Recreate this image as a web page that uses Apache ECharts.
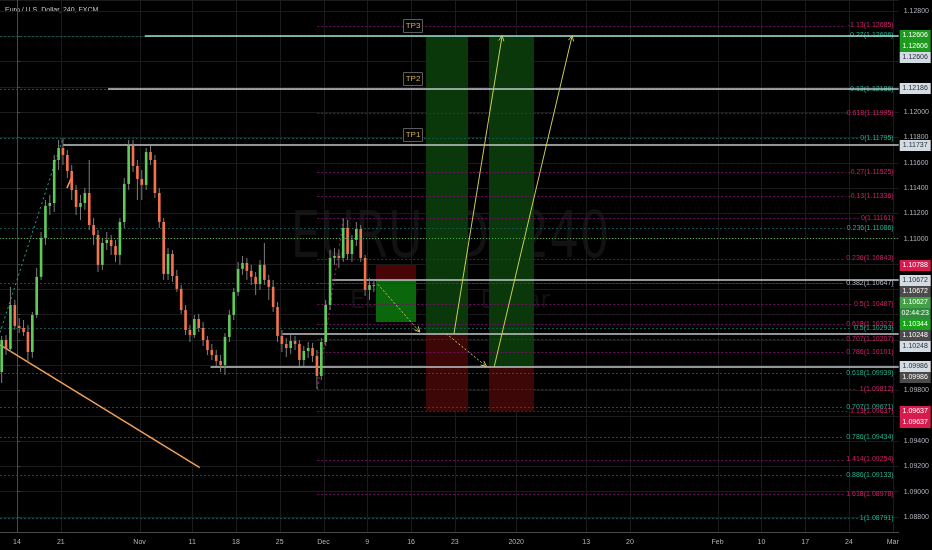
<!DOCTYPE html>
<html><head><meta charset="utf-8">
<script src="https://cdn.jsdelivr.net/npm/echarts@6/dist/echarts.min.js"></script>
<style>html,body{margin:0;padding:0;background:#000;}#c{width:932px;height:550px;}</style>
</head><body><div id="c"></div>
<script>
// ---------- data ----------
// x unit: trading days since Mon 14 Oct 2019 (weekends removed)
const axisLabelDays  = [0, 5, 14, 20, 25, 30, 35, 40, 45, 50, 57, 65, 70, 80, 85, 90, 95, 100];
const axisLabelTexts = ['14','21','Nov','11','18','25','Dec','9','16','23','2020','13','20','Feb','10','17','24','Mar'];

// 12-hour candles, first one centred at day -1.75
const candleStartDay = -1.75;
const candleStepDays = 0.5;
const openP  = [1.09946,1.10199,1.10128,1.10476,1.10310,1.10294,1.10262,1.10104,1.10397,1.10698,1.11006,1.11259,1.11282,1.11622,1.11717,1.11662,1.11535,1.11385,1.11251,1.11282,1.11361,1.11108,1.11029,1.10793,1.10966,1.10990,1.10942,1.10872,1.11132,1.11433,1.11741,1.11575,1.11472,1.11425,1.11685,1.11622,1.11361,1.11132,1.10721,1.10879,1.10705,1.10603,1.10436,1.10278,1.10238,1.10365,1.10294,1.10199,1.10120,1.10080,1.10033,1.10001,1.10223,1.10397,1.10579,1.10761,1.10808,1.10745,1.10698,1.10642,1.10793,1.10674,1.10619,1.10460,1.10231,1.10168,1.10136,1.10191,1.10168,1.10041,1.10112,1.10136,1.10073,1.09915,1.10183,1.10476,1.10848,1.10863,1.10848,1.11085,1.10879,1.10990,1.11077,1.10848,1.10595,1.10634];
const closeP = [1.10199,1.10128,1.10476,1.10310,1.10294,1.10262,1.10104,1.10397,1.10698,1.11006,1.11259,1.11282,1.11622,1.11717,1.11662,1.11535,1.11385,1.11251,1.11282,1.11361,1.11108,1.11029,1.10793,1.10966,1.10990,1.10942,1.10872,1.11132,1.11433,1.11741,1.11575,1.11472,1.11425,1.11685,1.11622,1.11361,1.11132,1.10721,1.10879,1.10705,1.10603,1.10436,1.10278,1.10238,1.10365,1.10294,1.10199,1.10120,1.10080,1.10033,1.10001,1.10223,1.10397,1.10579,1.10761,1.10808,1.10745,1.10698,1.10642,1.10793,1.10674,1.10619,1.10460,1.10231,1.10168,1.10136,1.10191,1.10168,1.10041,1.10112,1.10136,1.10073,1.09915,1.10183,1.10476,1.10848,1.10863,1.10848,1.11085,1.10879,1.10990,1.11077,1.10848,1.10595,1.10634,1.10627];
const highP  = [1.10231,1.10238,1.10619,1.10516,1.10373,1.10357,1.10318,1.10420,1.10769,1.11053,1.11306,1.11346,1.11662,1.11780,1.11795,1.11701,1.11583,1.11425,1.11346,1.11401,1.11622,1.11164,1.11069,1.11006,1.11053,1.11029,1.10990,1.11164,1.11480,1.11780,1.11780,1.11622,1.11543,1.11717,1.11733,1.11662,1.11401,1.11164,1.10927,1.10911,1.10753,1.10634,1.10476,1.10318,1.10397,1.10405,1.10341,1.10231,1.10168,1.10120,1.10080,1.10254,1.10436,1.10611,1.10816,1.10863,1.10848,1.10793,1.10737,1.10832,1.10966,1.10714,1.10674,1.10500,1.10278,1.10215,1.10238,1.10231,1.10199,1.10152,1.10183,1.10176,1.10120,1.10215,1.10516,1.10911,1.10927,1.10911,1.11161,1.11148,1.11029,1.11132,1.11108,1.10872,1.10690,1.10674];
const lowP   = [1.09859,1.10080,1.10104,1.10278,1.10254,1.10231,1.10025,1.10057,1.10373,1.10674,1.10951,1.11187,1.11211,1.11543,1.11583,1.11480,1.11306,1.11187,1.11148,1.11227,1.11069,1.10951,1.10737,1.10753,1.10911,1.10872,1.10816,1.10793,1.11085,1.11385,1.11527,1.11306,1.11306,1.11385,1.11583,1.11322,1.11085,1.10674,1.10674,1.10658,1.10579,1.10405,1.10238,1.10183,1.10215,1.10262,1.10152,1.10080,1.10041,1.09994,1.09946,1.09923,1.10183,1.10357,1.10547,1.10714,1.10674,1.10634,1.10555,1.10595,1.10634,1.10516,1.10420,1.10183,1.10104,1.10065,1.10089,1.10120,1.09994,1.09994,1.10057,1.10025,1.09812,1.09883,1.10152,1.10436,1.10793,1.10769,1.10816,1.10832,1.10816,1.10942,1.10816,1.10547,1.10516,1.10579];

// Fibonacci retracements
const magentaFibStartDay = 34.3;
const magentaFibLevels = [-1.13,-0.618,-0.27,-0.13,0,0.236,0.382,0.5,0.618,0.707,0.786,1,1.13,1.414,1.618];
const magentaFibPrices = [1.12685,1.11995,1.11525,1.11336,1.11161,1.10843,1.10647,1.10487,1.10327,1.10207,1.10101,1.09812,1.09637,1.09254,1.08978];
const tealFibStartDay = -1.94;
const tealFibLevels = [-0.27,-0.13,0,0.236,0.382,0.5,0.618,0.707,0.786,0.886,1];
const tealFibPrices = [1.12606,1.12186,1.11795,1.11086,1.10647,1.10293,1.09939,1.09671,1.09434,1.09133,1.08791];

// horizontal rays
const rayStartDays = [14.6, 10.4, 5.25, 36.0, 30.3, 22.1];
const rayPrices    = [1.12606, 1.12186, 1.11737, 1.10672, 1.10248, 1.09986];

// position tools
const positionStart  = [41.05, 46.75, 53.93];
const positionEnd    = [45.6, 51.54, 59.07];
const positionEntry  = [1.10672, 1.10248, 1.09986];
const positionStop   = [1.10788, 1.09637, 1.09637];
const positionTarget = [1.10344, 1.12606, 1.12606];

// projected path arrows
const arrowFromDay   = [41.2, 49.0, 49.9, 54.5];
const arrowFromPrice = [1.10640, 1.10250, 1.10250, 1.09990];
const arrowToDay     = [46.0, 53.6, 55.4, 63.4];
const arrowToPrice   = [1.10262, 1.09990, 1.12606, 1.12606];

// trend lines
const trendFromDay   = [-8.8, 34.3, -1.94, 5.7];
const trendFromPrice = [1.08791, 1.09812, 1.10160, 1.11400];
const trendToDay     = [5.25, 37.3, 20.87, 6.27];
const trendToPrice   = [1.11795, 1.11161, 1.09190, 1.11490];

// take-profit labels
const tpTexts  = ['TP1', 'TP2', 'TP3'];
const tpDays   = [45.2, 45.2, 45.2];
const tpPrices = [1.11737, 1.12186, 1.12606];

// price tags on the price scale
const tagPrices = [1.12606,1.12606,1.12606,1.12186,1.11737,1.10788,1.10672,1.10672,1.10627,1.10627,1.10344,1.10248,1.10248,1.09986,1.09986,1.09637,1.09637];
const tagTexts  = ['1.12606','1.12606','1.12606','1.12186','1.11737','1.10788','1.10672','1.10672','1.10627','02:44:23','1.10344','1.10248','1.10248','1.09986','1.09986','1.09637','1.09637'];
const tagKinds  = ['green','green','light','light','light','red','light','dark','last','count','green2','dark','light','light','dark','red','red'];

// ---------- layout / style ----------
const X_MIN = -1.94, X_MAX = 100.68, Y_MIN = 1.08681, Y_MAX = 1.12887;
const GRID = {left: 0, right: 32, top: 0, bottom: 18};
const PLOT_H = 550 - GRID.top - GRID.bottom;
const PX = (Y_MAX - Y_MIN) / PLOT_H;
const FONT = '"Liberation Sans", Arial, sans-serif';
const F7 = '7px ' + FONT;
const UP = '#5ecb5a', DOWN = '#f2734f', WICK = '#7d7d7d';
const TAG_STYLE = {
  green: {bg: '#1e9b1e', fg: '#ffffff'}, green2: {bg: '#18a418', fg: '#ffffff'},
  light: {bg: '#d3dce2', fg: '#2a2e39'}, dark: {bg: '#4b4b4b', fg: '#ffffff'},
  red: {bg: '#d81b4e', fg: '#ffffff'}, last: {bg: '#43a047', fg: '#ffffff'},
  count: {bg: '#2f8a3a', fg: '#ffffff'}
};
const measureCtx = document.createElement('canvas').getContext('2d');
measureCtx.font = F7;
const textW = t => measureCtx.measureText(t).width;

// stack tags like the price scale does
const TAG_STEP = 11 * PX;
const tagDisplay = [];
let prevTag = Infinity;
tagPrices.forEach(p => { const d = Math.min(p, prevTag - TAG_STEP); tagDisplay.push(d); prevTag = d; });

const sharedFib = magentaFibPrices.filter(p => tealFibPrices.includes(p));
const crisp = v => Math.round(v) + 0.5;

function fibSeries(levels, prices, startDay, lineColor, textColor, isTeal) {
  return {
    type: 'custom', z: 2, clip: false, silent: true,
    data: prices.map((p, i) => [startDay, p, levels[i]]),
    encode: {x: 0, y: 1},
    renderItem(params, api) {
      const cs = params.coordSys;
      const p = api.value(1);
      const a = api.coord([api.value(0), p]);
      const b = api.coord([X_MAX, p]);
      const y = crisp(a[1]);
      const shared = sharedFib.includes(p);
      const label = api.value(2) + '(' + p.toFixed(5) + ')';
      const endX = b[0] - 5 - textW(label) - 2;
      const children = [{type: 'line', shape: {x1: Math.max(a[0], cs.x), y1: y, x2: endX, y2: y},
        style: {stroke: lineColor, lineWidth: 1, lineDash: [2, 2]}}];
      if (!(isTeal && shared)) {
        children.push({type: 'text', x: b[0] - 5, y: a[1], style: {text: label,
          fill: shared ? '#b8bcc4' : textColor, font: F7, align: 'right', verticalAlign: 'middle'}});
      }
      return {type: 'group', children};
    }
  };
}

const option = {
  backgroundColor: '#000000',
  animation: false,
  grid: GRID,
  xAxis: {
    type: 'value', min: X_MIN, max: X_MAX,
    axisLine: {show: true, lineStyle: {color: '#4a4a4a'}},
    axisTick: {show: false}, splitLine: {show: false},
    axisLabel: {customValues: axisLabelDays, color: '#b2b5be', fontSize: 7, fontFamily: FONT, margin: 7,
      showMinLabel: true, showMaxLabel: true,
      formatter: v => { const i = axisLabelDays.indexOf(v); return i >= 0 ? axisLabelTexts[i] : ''; }}
  },
  yAxis: {
    type: 'value', position: 'right', min: Y_MIN, max: Y_MAX, splitNumber: 21, scale: true,
    axisLine: {show: true, lineStyle: {color: '#4a4a4a'}},
    axisTick: {show: true, length: 3, lineStyle: {color: '#4a4a4a'}},
    splitLine: {show: true, lineStyle: {color: '#1b1b1b'}},
    axisLabel: {color: '#b2b5be', fontSize: 7, fontFamily: FONT, margin: 5, showMinLabel: false, showMaxLabel: false,
      formatter: v => tagDisplay.some(t => Math.abs(t - v) < 6.5 * PX) ? '' : v.toFixed(5)}
  },
  graphic: [
    {type: 'text', x: 450, y: 240, scaleX: 0.74, z: -1, silent: true,
      style: {text: 'EURUSD, 240', font: '64px "DejaVu Sans", sans-serif', fill: '#121212', align: 'center', verticalAlign: 'middle'}},
    {type: 'text', x: 450, y: 301, scaleX: 0.94, z: -1, silent: true,
      style: {text: 'Euro / U.S. Dollar', font: '25px "DejaVu Sans", sans-serif', fill: '#121212', align: 'center', verticalAlign: 'middle'}},
    {type: 'text', x: 5, y: 10, silent: true,
      style: {text: 'Euro / U.S. Dollar, 240, FXCM', font: F7, fill: '#c9ccd2', verticalAlign: 'middle'}}
  ],
  series: [
    {type: 'custom', z: 0, silent: true, clip: true,
      data: axisLabelDays.map(d => [d, Y_MIN]), encode: {x: 0, y: 1},
      renderItem(params, api) {
        const cs = params.coordSys; const x = crisp(api.coord([api.value(0), Y_MIN])[0]);
        return {type: 'line', shape: {x1: x, y1: cs.y, x2: x, y2: cs.y + cs.height}, style: {stroke: '#1b1b1b', lineWidth: 1}};
      }},
    {type: 'custom', z: 1, silent: true, clip: true,
      data: positionStart.map((d, i) => [d, positionEntry[i], positionEnd[i], positionStop[i], positionTarget[i]]),
      encode: {x: [0, 2], y: [1, 3, 4]},
      renderItem(params, api) {
        const d0 = api.value(0), d1 = api.value(2), e = api.value(1), s = api.value(3), t = api.value(4);
        const isShort = s > e;
        const pe = api.coord([d0, e]), ps = api.coord([d1, s]), pt = api.coord([d1, t]);
        const x0 = Math.round(pe[0]), x1 = Math.round(ps[0]);
        const ye = Math.round(pe[1]), ys = Math.round(ps[1]), yt = Math.round(pt[1]);
        return {type: 'group', children: [
          {type: 'rect', shape: {x: x0, y: Math.min(ye, ys), width: x1 - x0, height: Math.abs(ys - ye)},
            style: {fill: isShort ? '#470505' : '#3d0707'}},
          {type: 'rect', shape: {x: x0, y: Math.min(ye, yt), width: x1 - x0, height: Math.abs(yt - ye)},
            style: {fill: isShort ? '#0b670b' : '#0a380a'}}
        ]};
      }},
    fibSeries(tealFibLevels, tealFibPrices, tealFibStartDay, '#0f5551', '#22b394', true),
    fibSeries(magentaFibLevels, magentaFibPrices, magentaFibStartDay, '#6d1160', '#d0206a', false),
    {type: 'custom', z: 3, silent: true, clip: true,
      data: rayStartDays.map((d, i) => [d, rayPrices[i]]), encode: {x: 0, y: 1},
      renderItem(params, api) {
        const a = api.coord([api.value(0), api.value(1)]); const b = api.coord([X_MAX, api.value(1)]);
        const tp3 = api.value(1) === tpPrices[2];
        return {type: 'line', shape: {x1: a[0], y1: Math.round(a[1]), x2: b[0], y2: Math.round(a[1])},
          style: {stroke: tp3 ? '#a6dcd3' : '#c3c8cd', lineWidth: 1.5}};
      }},
    {type: 'custom', z: 3, silent: true, clip: true,
      data: trendFromDay.map((d, i) => [d, trendFromPrice[i], trendToDay[i], trendToPrice[i], i]),
      encode: {x: [0, 2], y: [1, 3]},
      renderItem(params, api) {
        const a = api.coord([api.value(0), api.value(1)]), b = api.coord([api.value(2), api.value(3)]);
        const k = api.value(4);
        const st = [{stroke: '#26a69a', lineWidth: 1, lineDash: [2, 3]}, {stroke: '#b0208a', lineWidth: 1, lineDash: [2, 3]},
                    {stroke: '#f0a058', lineWidth: 1.5}, {stroke: '#f0a058', lineWidth: 1.5}][k];
        return {type: 'line', shape: {x1: a[0], y1: a[1], x2: b[0], y2: b[1]}, style: st};
      }},
    {type: 'custom', z: 4, silent: true, clip: true,
      data: openP.map((o, i) => [candleStartDay + i * candleStepDays, o, closeP[i], lowP[i], highP[i]]),
      encode: {x: 0, y: [1, 2, 3, 4]},
      renderItem(params, api) {
        const d = api.value(0), o = api.value(1), c = api.value(2), l = api.value(3), h = api.value(4);
        const po = api.coord([d, o]), pc = api.coord([d, c]), pl = api.coord([d, l]), ph = api.coord([d, h]);
        const w = api.size([candleStepDays, 0])[0] * 0.6;
        const x = po[0];
        const top = Math.min(po[1], pc[1]), bot = Math.max(po[1], pc[1]);
        return {type: 'group', children: [
          {type: 'line', shape: {x1: x, y1: ph[1], x2: x, y2: pl[1]}, style: {stroke: WICK, lineWidth: 1}},
          {type: 'rect', shape: {x: x - w / 2, y: top, width: w, height: Math.max(1, bot - top)}, style: {fill: c >= o ? UP : DOWN}}
        ]};
      },
      markLine: {silent: true, symbol: 'none', label: {show: false},
        lineStyle: {color: '#4caf50', type: [1, 2], width: 1},
        data: [{yAxis: closeP[closeP.length - 1]}]}},
    {type: 'custom', z: 5, silent: true, clip: true,
      data: arrowFromDay.map((d, i) => [d, arrowFromPrice[i], arrowToDay[i], arrowToPrice[i], i]),
      encode: {x: [0, 2], y: [1, 3]},
      renderItem(params, api) {
        const a = api.coord([api.value(0), api.value(1)]), b = api.coord([api.value(2), api.value(3)]);
        const dashed = api.value(4) < 2;
        const ang = Math.atan2(b[1] - a[1], b[0] - a[0]);
        const L = 6, sp = 0.45;
        const st = {stroke: '#cccc55', lineWidth: 1};
        return {type: 'group', children: [
          {type: 'line', shape: {x1: a[0], y1: a[1], x2: b[0], y2: b[1]}, style: Object.assign({}, st, dashed ? {lineDash: [2, 2]} : {})},
          {type: 'line', shape: {x1: b[0], y1: b[1], x2: b[0] - L * Math.cos(ang - sp), y2: b[1] - L * Math.sin(ang - sp)}, style: st},
          {type: 'line', shape: {x1: b[0], y1: b[1], x2: b[0] - L * Math.cos(ang + sp), y2: b[1] - L * Math.sin(ang + sp)}, style: st}
        ]};
      }},
    {type: 'custom', z: 6, silent: true, clip: false,
      data: tpDays.map((d, i) => [d, tpPrices[i], i]), encode: {x: 0, y: 1},
      renderItem(params, api) {
        const p = api.coord([api.value(0), api.value(1)]);
        const cx = Math.round(p[0]), cy = Math.round(p[1]) - 10;
        return {type: 'group', children: [
          {type: 'rect', shape: {x: cx - 9.5, y: cy - 6.5, width: 19, height: 13}, style: {fill: '#050505', stroke: '#5c5c5c', lineWidth: 1}},
          {type: 'text', x: cx, y: cy, style: {text: tpTexts[api.value(2)], fill: '#d4b04c', font: '8px ' + FONT, align: 'center', verticalAlign: 'middle'}}
        ]};
      }},
    {type: 'custom', z: 10, silent: true, clip: false,
      data: tagDisplay.map((p, i) => [X_MIN, p, i]), encode: {x: 0, y: 1},
      renderItem(params, api) {
        const cs = params.coordSys; const i = api.value(2);
        const y = Math.round(api.coord([X_MIN, api.value(1)])[1] - 5.5);
        const s = TAG_STYLE[tagKinds[i]];
        const x0 = cs.x + cs.width + 1;
        return {type: 'group', children: [
          {type: 'rect', shape: {x: x0, y: y, width: 31, height: 11}, style: {fill: s.bg}},
          {type: 'text', x: x0 + 15.5, y: y + 5.5, style: {text: tagTexts[i], fill: s.fg, font: F7, align: 'center', verticalAlign: 'middle'}}
        ]};
      }}
  ]
};

const chart = echarts.init(document.getElementById('c'), null, {renderer: 'canvas'});
chart.setOption(option);
</script>
</body></html>
